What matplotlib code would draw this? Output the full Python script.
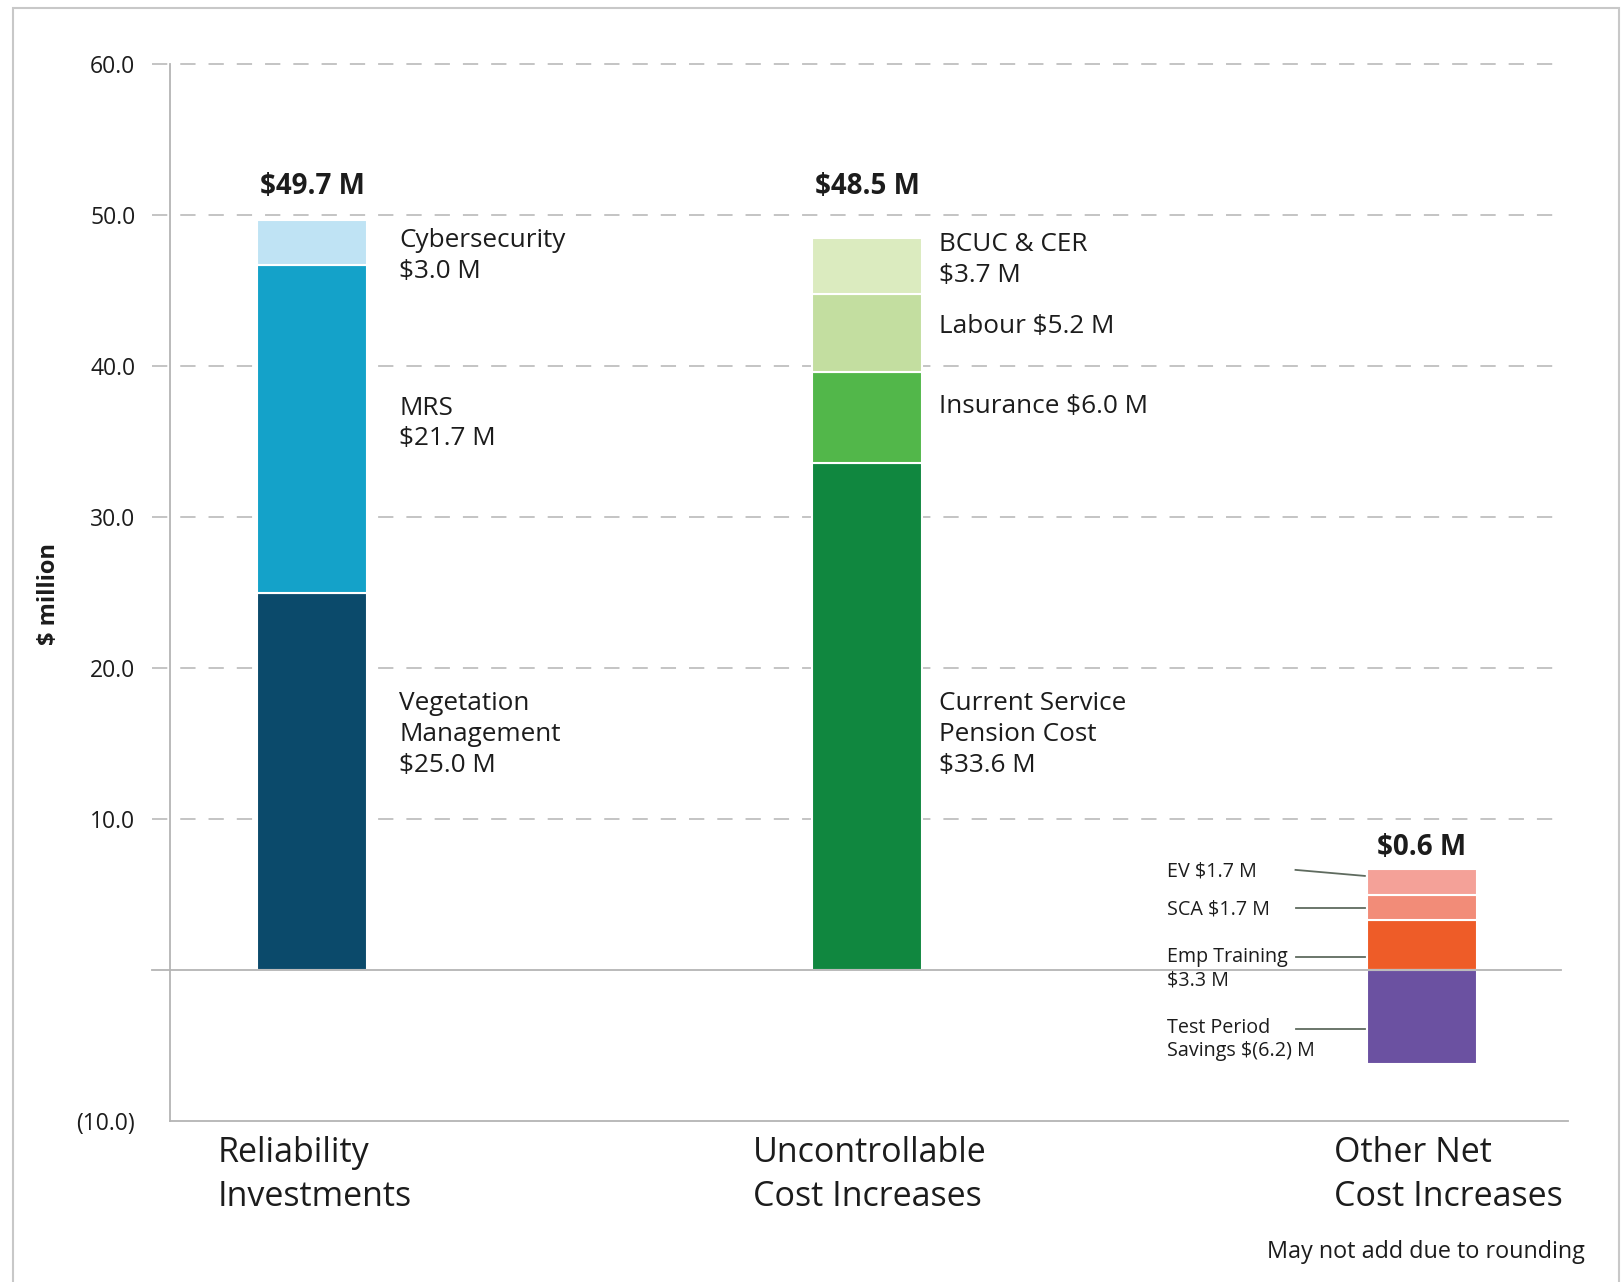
import matplotlib.pyplot as plt
import matplotlib.patches as patches
from matplotlib import transforms

plt.rcParams['font.family'] = ['Open Sans', 'DejaVu Sans']

# data ($ million)
categories = ["Reliability\nInvestments", "Uncontrollable\nCost Increases", "Other Net\nCost Increases"]
rel_labels = ["Vegetation\nManagement\n$25.0 M", "MRS\n$21.7 M", "Cybersecurity\n$3.0 M"]
rel_values = [25.0, 21.7, 3.0]
rel_colors = ["#0b4a6b", "#14a2c9", "#bfe3f4"]
unc_labels = ["Current Service\nPension Cost\n$33.6 M", "Insurance $6.0 M", "Labour $5.2 M", "BCUC & CER\n$3.7 M"]
unc_values = [33.6, 6.0, 5.2, 3.7]
unc_colors = ["#10873f", "#52b74a", "#c3dea0", "#dbebbf"]
oth_pos_labels = ["Emp Training\n$3.3 M", "SCA $1.7 M", "EV $1.7 M"]
oth_pos_values = [3.3, 1.7, 1.7]
oth_pos_colors = ["#ee5c28", "#f28c78", "#f4a198"]
oth_neg_label = "Test Period\nSavings $(6.2) M"
oth_neg_value = -6.2
oth_neg_color = "#6b51a1"
totals = ["$49.7 M", "$48.5 M", "$0.6 M"]
yticks = [-10, 0, 10, 20, 30, 40, 50, 60]
ytick_labels = ["(10.0)", "", "10.0", "20.0", "30.0", "40.0", "50.0", "60.0"]

W, H = 1621, 1282
fig = plt.figure(figsize=(W / 100, H / 100), dpi=100)
ax = fig.add_axes([170 / W, 1 - 1121 / H, (1568 - 170) / W, (1121 - 64) / H])
ax.set_xlim(-0.256, 2.263)
ax.set_ylim(-10, 60)

txt = "#1c1c1c"
grid_c = "#b4b4b4"
bw = 0.198

# gridlines (extend a little left of the spine)
gtrans = transforms.blended_transform_factory(ax.transAxes, ax.transData)
for y in yticks[1:]:
    if y == 0:
        ax.plot([-0.013, 0.995], [0, 0], transform=gtrans, color=grid_c, lw=1.3,
                clip_on=False, zorder=4)
    else:
        ax.plot([-0.013, 0.995], [y, y], transform=gtrans, color=grid_c, lw=1.1,
                dashes=(10, 8.5), clip_on=False, zorder=1)

# stacked bars
def stack(x, values, colors, start=0.0):
    b = start
    for v, c in zip(values, colors):
        ax.bar(x, v, bottom=b, width=bw, color=c, edgecolor="white", linewidth=1.5, zorder=3)
        b += v

stack(0, rel_values, rel_colors)
stack(1, unc_values, unc_colors)
stack(2, oth_pos_values, oth_pos_colors)
ax.bar(2, oth_neg_value, width=bw, color=oth_neg_color, edgecolor="white", linewidth=1.5, zorder=3)

# segment labels
rel_y = [15.6, 36.2, 47.3]
for lab, y in zip(rel_labels, rel_y):
    ax.text(0.157, y, lab, fontsize=18.8, color=txt, va="center", ha="left", linespacing=1.3)
unc_y = [15.6, 37.3, 42.6, 47.0]
for lab, y in zip(unc_labels, unc_y):
    ax.text(1.13, y, lab, fontsize=18.8, color=txt, va="center", ha="left", linespacing=1.3)

# small labels with leaders for the third bar
small_y = [0.07, 4.0, 6.5]
lead_y = [(0.86, 0.86), (4.1, 4.1), (6.63, 6.23)]
for lab, y, ly in zip(oth_pos_labels, small_y, lead_y):
    ax.text(1.54, y, lab, fontsize=14.2, color=txt, va="center", ha="left", linespacing=1.25)
    ax.plot([1.772, 1.897], ly, color="#5f6b5f", lw=1.3, zorder=3)
ax.text(1.54, -4.6, oth_neg_label, fontsize=14.2, color=txt, va="center", ha="left", linespacing=1.25)
ax.plot([1.772, 1.897], [-3.9, -3.9], color="#5f6b5f", lw=1.3, zorder=3)

# totals
total_y = [51.9, 51.9, 8.1]
for i, (t, y) in enumerate(zip(totals, total_y)):
    ax.text(i, y, t, fontsize=20, fontweight="bold", color=txt, ha="center", va="center")

# axes styling
for s in ["top", "right"]:
    ax.spines[s].set_visible(False)
for s in ["left", "bottom"]:
    ax.spines[s].set_color("#b4b4b4")
    ax.spines[s].set_linewidth(1.3)
ax.set_xticks([])
ax.set_yticks(yticks)
ax.set_yticklabels(ytick_labels, fontsize=16.5, color=txt)
ax.tick_params(axis="y", length=0, pad=25)

# category labels
cat_x = [218, 753, 1334]
for x, c in zip(cat_x, categories):
    fig.text(x / W, 1 - 1175 / H, c, fontsize=24.5, color=txt, ha="left", va="center", linespacing=1.36)

fig.text(49 / W, 1 - 594 / H, "$ million", fontsize=17, fontweight="bold", color=txt,
         rotation=90, ha="center", va="center")
fig.text(1267 / W, 1 - 1252 / H, "May not add due to rounding", fontsize=16.8, color=txt,
         ha="left", va="center")

# outer frame
fig.patches.append(patches.Rectangle((13 / W, -0.02), (1619 - 13) / W, 1.02 - 8 / H,
                                     transform=fig.transFigure, fill=False,
                                     edgecolor="#c8c8c8", linewidth=1.5))

fig.savefig("out.png", dpi=100)
